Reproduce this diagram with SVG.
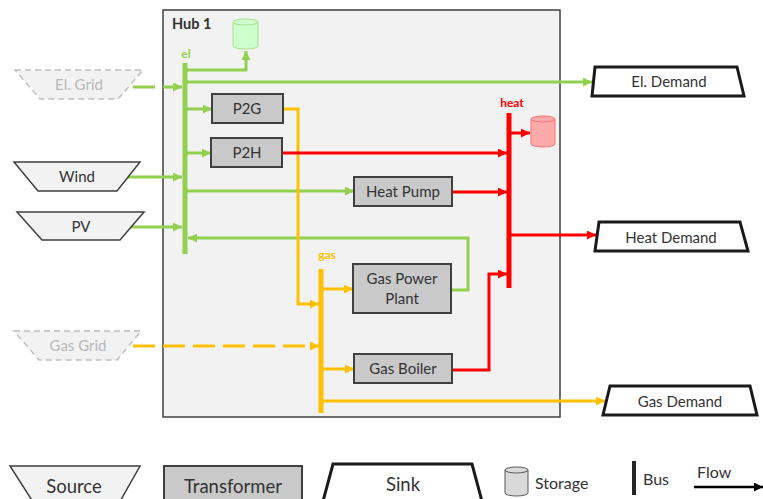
<svg xmlns="http://www.w3.org/2000/svg" width="763" height="499" viewBox="0 0 763 499">
<defs>
<marker id="ag" viewBox="0 0 10 10" refX="10" refY="5" markerWidth="9" markerHeight="9" markerUnits="userSpaceOnUse" orient="auto"><path d="M0,0 L10,5 L0,10 z" fill="#92d050"/></marker>
<marker id="ao" viewBox="0 0 10 10" refX="10" refY="5" markerWidth="9" markerHeight="9" markerUnits="userSpaceOnUse" orient="auto"><path d="M0,0 L10,5 L0,10 z" fill="#ffc000"/></marker>
<marker id="ar" viewBox="0 0 10 10" refX="10" refY="5" markerWidth="9" markerHeight="9" markerUnits="userSpaceOnUse" orient="auto"><path d="M0,0 L10,5 L0,10 z" fill="#ff0000"/></marker>
<marker id="ak" viewBox="0 0 10 10" refX="10" refY="5" markerWidth="9" markerHeight="9" markerUnits="userSpaceOnUse" orient="auto"><path d="M0,0 L10,5 L0,10 z" fill="#000"/></marker>
</defs>
<style>
text{font-family:Lato,"Liberation Sans",sans-serif;}
.t{font-size:15px;fill:#333;text-anchor:middle;}
.tg{font-size:15px;fill:#b8b8b8;text-anchor:middle;}
.box{fill:#c9c9c9;stroke:#404040;stroke-width:2;}
.src{fill:#f2f2f2;stroke:#404040;stroke-width:1.5;}
.grid{fill:#f2f2f2;stroke:#bfbfbf;stroke-width:1.5;stroke-dasharray:6 4;}
.sink{fill:#fff;stroke:#1a1a1a;stroke-width:3;}
.fg{fill:none;stroke:#92d050;stroke-width:3;}
.fo{fill:none;stroke:#ffc000;stroke-width:3;}
.fr{fill:none;stroke:#ff0000;stroke-width:3;}
.dash{stroke-dasharray:22 8;}
.lbl{font-size:12px;font-weight:bold;text-anchor:middle;}
.leg{font-size:18.5px;fill:#333;}
</style>
<g id="hub">
<rect x="163" y="10" width="397" height="407" fill="#f2f2f2" stroke="#404040" stroke-width="1.5"/>
<text x="172" y="29" style="font-size:14.5px;font-weight:bold;fill:#333">Hub 1</text>
</g>
<g id="connectors">
<path class="fg" d="M185,70 H246 V51" marker-end="url(#ag)"/>
<path class="fg" d="M185,82 H592" marker-end="url(#ag)"/>
<path class="fg dash" d="M133,87 H182" marker-end="url(#ag)"/>
<path class="fg" d="M128,177 H182" marker-end="url(#ag)"/>
<path class="fg" d="M130,227 H182" marker-end="url(#ag)"/>
<path class="fg" d="M185,109 H212" marker-end="url(#ag)"/>
<path class="fg" d="M185,153 H211" marker-end="url(#ag)"/>
<path class="fg" d="M185,191 H354" marker-end="url(#ag)"/>
<path class="fg" d="M451,290 H468 V238 H188" marker-end="url(#ag)"/>
<path class="fo" d="M283,109 H298 V304 H319" marker-end="url(#ao)"/>
<path class="fo dash" d="M133,346 H319" marker-end="url(#ao)"/>
<path class="fo" d="M321,289 H353" marker-end="url(#ao)"/>
<path class="fo" d="M321,369 H354" marker-end="url(#ao)"/>
<path class="fo" d="M321,401 H605" marker-end="url(#ao)"/>
<path class="fr" d="M282,153 H507" marker-end="url(#ar)"/>
<path class="fr" d="M452,192 H507" marker-end="url(#ar)"/>
<path class="fr" d="M509,235 H596" marker-end="url(#ar)"/>
<path class="fr" d="M509,133 H530" marker-end="url(#ar)"/>
<path class="fr" d="M452,370 H489 V274 H507" marker-end="url(#ar)"/>
</g>
<g id="bus-el">
<line x1="185" y1="63" x2="185" y2="254" stroke="#92d050" stroke-width="5"/>
<text x="186" y="58" class="lbl" fill="#92d050">el</text>
</g>
<g id="bus-gas">
<line x1="321" y1="269" x2="321" y2="413" stroke="#ffc000" stroke-width="5"/>
<text x="327" y="259" class="lbl" fill="#ffc000">gas</text>
</g>
<g id="bus-heat">
<line x1="509" y1="113" x2="509" y2="288" stroke="#ff0000" stroke-width="5"/>
<text x="512" y="107" class="lbl" fill="#ff0000">heat</text>
</g>
<g id="storage-el">
<path d="M233,22 V46 A12.5,3 0 0 0 258,46 V22 A12.5,3 0 0 0 233,22 Z" fill="#ccffcc" stroke="#a9e08a" stroke-width="1"/>
<path d="M233,22 A12.5,3 0 0 0 258,22" fill="none" stroke="#a9e08a" stroke-width="1"/>
</g>
<g id="storage-heat">
<path d="M531,119 V144 A12,3 0 0 0 555,144 V119 A12,3 0 0 0 531,119 Z" fill="#ffaaaa" stroke="#ff7070" stroke-width="1"/>
<path d="M531,119 A12,3 0 0 0 555,119" fill="none" stroke="#ff7070" stroke-width="1"/>
</g>
<g id="el-grid">
<polygon class="grid" points="15,70 143,70 118,99 40,99"/>
<text x="79" y="90" class="tg">El. Grid</text>
</g>
<g id="wind">
<polygon class="src" points="14,162 140,162 117,191 38,191"/>
<text x="77" y="182" class="t">Wind</text>
</g>
<g id="pv">
<polygon class="src" points="17,212 144,212 120,240 42,240"/>
<text x="81" y="232" class="t">PV</text>
</g>
<g id="gas-grid">
<polygon class="grid" points="14,331 141,331 117,360 39,360"/>
<text x="78" y="351" class="tg">Gas Grid</text>
</g>
<g id="p2g">
<rect class="box" x="212" y="94" width="71" height="29"/>
<text x="247" y="114" class="t">P2G</text>
</g>
<g id="p2h">
<rect class="box" x="211" y="138" width="71" height="29"/>
<text x="247" y="158" class="t">P2H</text>
</g>
<g id="heat-pump">
<rect class="box" x="354" y="177" width="98" height="29"/>
<text x="403" y="197" class="t">Heat Pump</text>
</g>
<g id="gas-power-plant">
<rect class="box" x="353" y="264" width="98" height="49"/>
<text x="402" y="284" class="t">Gas Power</text>
<text x="402" y="304" class="t">Plant</text>
</g>
<g id="gas-boiler">
<rect class="box" x="354" y="354" width="98" height="29"/>
<text x="403" y="374" class="t">Gas Boiler</text>
</g>
<g id="el-demand">
<polygon class="sink" points="595,67 737,67 744,96 592,96"/>
<text x="669" y="87" class="t">El. Demand</text>
</g>
<g id="heat-demand">
<polygon class="sink" points="599,222 740,222 748,251 595,251"/>
<text x="671" y="243" class="t">Heat Demand</text>
</g>
<g id="gas-demand">
<polygon class="sink" points="610,386 750,386 757,415 603,415"/>
<text x="680" y="407" class="t">Gas Demand</text>
</g>
<g id="legend">
<polygon class="src" points="10,466 140,466 118,505 35,505"/>
<text x="74" y="493" class="leg" text-anchor="middle">Source</text>
<rect class="box" x="164" y="466" width="138" height="40"/>
<text x="233" y="493" class="leg" text-anchor="middle">Transformer</text>
<polygon class="sink" points="333,464 472,464 483,505 322,505"/>
<text x="403" y="491" class="leg" text-anchor="middle">Sink</text>
<path d="M505,470 V493 A11.5,3 0 0 0 528,493 V470 A11.5,3 0 0 0 505,470 Z" fill="#d9d9d9" stroke="#595959" stroke-width="1"/>
<path d="M505,470 A11.5,3 0 0 0 528,470" fill="none" stroke="#595959" stroke-width="1"/>
<text x="535" y="489" class="leg" style="font-size:16px">Storage</text>
<line x1="634" y1="461" x2="634" y2="495" stroke="#262626" stroke-width="4"/>
<text x="643" y="485" class="leg" style="font-size:16px">Bus</text>
<text x="697" y="478" class="leg" style="font-size:16px">Flow</text>
<line x1="694" y1="487" x2="763" y2="487" stroke="#000" stroke-width="2.5" marker-end="url(#ak)"/>
</g>
</svg>
